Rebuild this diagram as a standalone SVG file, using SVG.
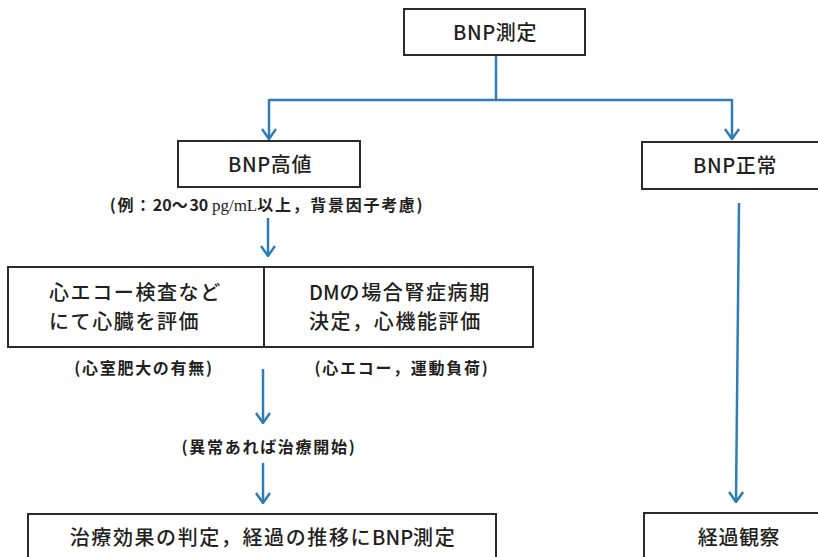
<svg xmlns="http://www.w3.org/2000/svg" width="818" height="557" viewBox="0 0 818 557">
<style>
.box{fill:#fff;stroke:#2b2b2b;stroke-width:2}
.t{font-family:"Noto Sans CJK JP","Noto Sans",sans-serif;fill:#231f20;font-weight:500}
.main{font-size:20px;letter-spacing:0.6px}
.big{font-size:20px;letter-spacing:1.6px}
.note{font-size:16px;font-weight:700;letter-spacing:1.7px}
.l{letter-spacing:0}
.serif{font-family:"Liberation Serif",serif;font-weight:400;letter-spacing:0}
.c{fill:none;stroke:#2e7db8;stroke-width:2.5}
</style>
<defs>
<marker id="ah" viewBox="0 0 12 16" refX="11" refY="8" markerWidth="12" markerHeight="16" markerUnits="userSpaceOnUse" orient="auto">
<path d="M1,1 L11,8 L1,15" fill="none" stroke="#2e7db8" stroke-width="2.5"/>
</marker>
</defs>
<rect width="818" height="557" fill="#fff"/>
<g id="connectors">
<polyline class="c" points="496,55 496,100"/>
<polyline class="c" points="269,100 732,100"/>
<line class="c" x1="269" y1="99" x2="269" y2="139" marker-end="url(#ah)"/>
<line class="c" x1="732" y1="99" x2="732" y2="139" marker-end="url(#ah)"/>
<line class="c" x1="268" y1="218" x2="268" y2="256" marker-end="url(#ah)"/>
<line class="c" x1="263" y1="369" x2="263" y2="423" marker-end="url(#ah)"/>
<line class="c" x1="263" y1="463" x2="263" y2="503" marker-end="url(#ah)"/>
<line class="c" x1="739" y1="203" x2="736" y2="502" marker-end="url(#ah)"/>
</g>
<g id="bnp-measure">
<rect class="box" x="404" y="9" width="181" height="46"/>
<text class="t main" x="495" y="40" text-anchor="middle">BNP測定</text>
</g>
<g id="bnp-high">
<rect class="box" x="178" y="141" width="182" height="46"/>
<text class="t main" x="270" y="172" text-anchor="middle">BNP高値</text>
<text class="t note" x="267" y="211" text-anchor="middle">(例：<tspan class="l">20</tspan>〜<tspan class="l">30 </tspan><tspan class="serif" font-size="17">pg/mL</tspan>以上，背景因子考慮)</text>
</g>
<g id="echo">
<rect class="box" x="8" y="267" width="256" height="80"/>
<text class="t big" x="49" y="300">心エコー検査など</text>
<text class="t big" x="49" y="329">にて心臓を評価</text>
<text class="t note" x="144" y="374" text-anchor="middle">(心室肥大の有無)</text>
</g>
<g id="dm">
<rect class="box" x="264" y="267" width="269" height="80"/>
<text class="t big" x="309" y="300"><tspan class="l">DM</tspan>の場合腎症病期</text>
<text class="t big" x="309" y="329">決定，心機能評価</text>
<text class="t note" x="402" y="374" text-anchor="middle">(心エコー，運動負荷)</text>
</g>
<g id="abnormal-note">
<text class="t note" x="269" y="453" text-anchor="middle">(異常あれば治療開始)</text>
</g>
<g id="treatment">
<rect class="box" x="28" y="514" width="468" height="60"/>
<text class="t big" x="263" y="545" text-anchor="middle">治療効果の判定，経過の推移に<tspan class="l">BNP</tspan>測定</text>
</g>
<g id="bnp-normal">
<rect class="box" x="642" y="142" width="190" height="47"/>
<text class="t main" x="735" y="173" text-anchor="middle">BNP正常</text>
</g>
<g id="followup">
<rect class="box" x="644" y="513" width="190" height="60"/>
<text class="t main" x="739" y="545" text-anchor="middle">経過観察</text>
</g>
</svg>
